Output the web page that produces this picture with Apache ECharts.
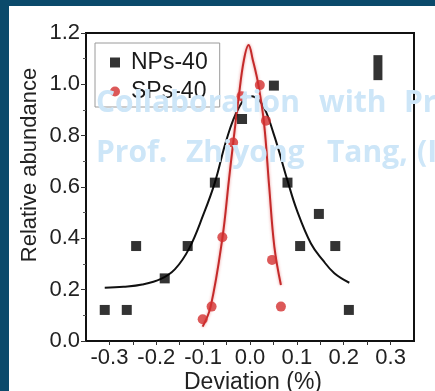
<!DOCTYPE html>
<html>
<head>
<meta charset="utf-8">
<script src="https://cdn.jsdelivr.net/npm/echarts@6/dist/echarts.min.js"></script>
<style>
  html, body { margin: 0; padding: 0; background: #fff; }
  #chart { width: 435px; height: 391px; }
</style>
</head>
<body>
<div id="chart"></div>
<script>
// scatter points
const npX = [-0.31, -0.263, -0.243, -0.182, -0.133, -0.075, -0.017, 0.051, 0.08, 0.147, 0.107, 0.182, 0.211];
const npY = [0.121, 0.121, 0.37, 0.244, 0.37, 0.617, 0.865, 0.995, 0.617, 0.495, 0.37, 0.37, 0.121];
const spX = [-0.101, -0.082, -0.059, -0.036, -0.018, 0.021, 0.034, 0.047, 0.066];
const spY = [0.085, 0.134, 0.404, 0.773, 0.954, 0.997, 0.858, 0.316, 0.134];

// fitted curves, traced
const npFitX = [-0.31, -0.27, -0.23, -0.19, -0.16, -0.13, -0.10, -0.075, -0.05, -0.025, 0.0, 0.025, 0.05, 0.08, 0.10, 0.13, 0.155, 0.18, 0.212];
const npFitY = [0.207, 0.211, 0.220, 0.242, 0.280, 0.360, 0.490, 0.617, 0.785, 0.905, 0.955, 0.925, 0.810, 0.625, 0.510, 0.380, 0.316, 0.264, 0.227];
const spFitX = [-0.101, -0.084, -0.059, -0.045, -0.036, -0.024, -0.013, -0.003, 0.006, 0.018, 0.030, 0.041, 0.052, 0.066];
const spFitY = [0.056, 0.134, 0.40, 0.627, 0.77, 0.952, 1.095, 1.153, 1.095, 0.997, 0.848, 0.60, 0.367, 0.218];

// the odd black bar in the top right corner
const barX = [0.273];
const barY = [1.065];

const xLabels = [-0.3, -0.2, -0.1, 0.0, 0.1, 0.2, 0.3];
const xTicks = [-0.3, -0.25, -0.2, -0.15, -0.1, -0.05, 0.0, 0.05, 0.1, 0.15, 0.2, 0.25, 0.3];

const zip = (a, b) => a.map((v, i) => [v, b[i]]);

const chart = echarts.init(document.getElementById('chart'));
const font = '"Liberation Sans", Arial, sans-serif';
const wmFont = '700 30px "Open Sans", sans-serif';

// watermark words, placed one by one (the source has wide word gaps)
const wmWords = [
  ['Collaboration', 96, 103], ['with', 319, 103], ['Pr', 404, 103],
  ['Prof.', 96, 153], ['Zhiyong', 186, 153], ['Tang,', 327, 153], ['(I', 417, 153]
];
const watermark = wmWords.map(w => ({
  type: 'text', x: w[1], y: w[2], z: 90,
  style: { text: w[0], font: wmFont, fill: '#cde6f8', textVerticalAlign: 'middle' }
}));

const option = {
  backgroundColor: '#fff',
  animation: false,
  textStyle: { fontFamily: font },
  grid: {
    left: 86, right: 21, top: 33, bottom: 50,
    show: true, borderColor: '#111', borderWidth: 2
  },
  legend: {
    data: ['NPs-40', 'SPs-40'],
    orient: 'vertical',
    left: 95, top: 43,
    padding: [8, 12, 4, 15],
    itemWidth: 10, itemHeight: 10,
    itemGap: 6,
    borderColor: '#9a9a9a', borderWidth: 1,
    textStyle: { fontSize: 23, color: '#1a1a1a', fontFamily: font, padding: [0, 0, 0, 6], lineHeight: 22 }
  },
  xAxis: {
    type: 'value', min: -0.35, max: 0.35,
    axisLine: { show: true, onZero: false, lineStyle: { color: '#111', width: 2 } },
    axisTick: { show: true, length: 4, customValues: xTicks, lineStyle: { color: '#333' } },
    axisLabel: { customValues: xLabels, formatter: v => v.toFixed(1), fontSize: 22, color: '#222', margin: 6 },
    splitLine: { show: false }
  },
  yAxis: {
    type: 'value', min: 0, max: 1.2, interval: 0.2,
    axisLine: { show: true, onZero: false, lineStyle: { color: '#111', width: 2 } },
    axisTick: { show: true, length: 5, lineStyle: { color: '#333' } },
    minorTick: { show: true, splitNumber: 2, length: 3, lineStyle: { color: '#555' } },
    axisLabel: { formatter: v => v.toFixed(1), fontSize: 22, color: '#222', margin: 6 },
    splitLine: { show: false }
  },
  series: [
    {
      name: 'NPs-40fit', type: 'line', data: zip(npFitX, npFitY),
      smooth: 0.4, showSymbol: false, silent: true,
      lineStyle: { color: '#111', width: 2 }, z: 2
    },
    {
      name: 'SPs-40fit', type: 'line', data: zip(spFitX, spFitY),
      smooth: 0.4, showSymbol: false, silent: true,
      lineStyle: { color: '#c42a2a', width: 2, shadowBlur: 3, shadowColor: 'rgba(220,70,70,0.6)' }, z: 2
    },
    {
      name: 'NPs-40', type: 'scatter', data: zip(npX, npY),
      symbol: 'rect', symbolSize: 10,
      itemStyle: { color: '#000' }, z: 3
    },
    {
      name: 'SPs-40', type: 'scatter', data: zip(spX, spY),
      symbol: 'circle', symbolSize: 10,
      itemStyle: { color: '#d3302f' }, z: 4
    },
    {
      name: 'bar', type: 'scatter', data: zip(barX, barY),
      symbol: 'rect', symbolSize: [9, 25],
      itemStyle: { color: '#000' }, z: 3
    }
  ],
  graphic: [
    // dark frame
    { type: 'rect', left: 0, top: 0, shape: { width: 9, height: 391 }, style: { fill: '#0b4a6b' }, z: 100 },
    { type: 'rect', left: 0, top: 0, shape: { width: 435, height: 6 }, style: { fill: '#0b4a6b' }, z: 100 },
    // axis names
    {
      type: 'text', x: 30, y: 165, rotation: Math.PI / 2, z: 50,
      style: { text: 'Relative abundance', font: '22px ' + font, fill: '#222', textAlign: 'center', textVerticalAlign: 'middle' }
    },
    {
      type: 'text', x: 253, y: 383, z: 50,
      style: { text: 'Deviation (%)', font: '23px ' + font, fill: '#222', textAlign: 'center', textVerticalAlign: 'middle' }
    }
  ].concat(watermark)
};

chart.setOption(option);
</script>
</body>
</html>
